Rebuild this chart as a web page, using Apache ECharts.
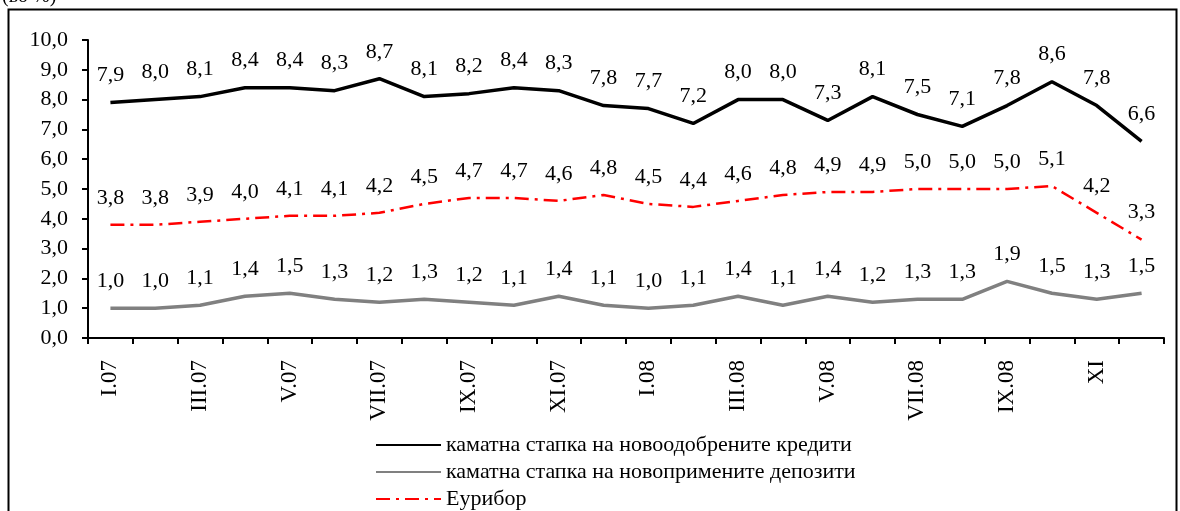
<!DOCTYPE html>
<html>
<head>
<meta charset="utf-8">
<script src="https://cdn.jsdelivr.net/npm/echarts@6/dist/echarts.min.js"></script>
<style>
html,body{margin:0;padding:0;background:#fff;}
#chart{width:1180px;height:511px;}
</style>
</head>
<body>
<div id="chart"></div>
<script>
const categories = ['I.07','II.07','III.07','IV.07','V.07','VI.07','VII.07','VIII.07','IX.07','X.07','XI.07','XII.07',
  'I.08','II.08','III.08','IV.08','V.08','VI.08','VII.08','VIII.08','IX.08','X.08','XI','XII'];
const credits = [7.9,8.0,8.1,8.4,8.4,8.3,8.7,8.1,8.2,8.4,8.3,7.8,7.7,7.2,8.0,8.0,7.3,8.1,7.5,7.1,7.8,8.6,7.8,6.6];
const deposits = [1.0,1.0,1.1,1.4,1.5,1.3,1.2,1.3,1.2,1.1,1.4,1.1,1.0,1.1,1.4,1.1,1.4,1.2,1.3,1.3,1.9,1.5,1.3,1.5];
const euribor = [3.8,3.8,3.9,4.0,4.1,4.1,4.2,4.5,4.7,4.7,4.6,4.8,4.5,4.4,4.6,4.8,4.9,4.9,5.0,5.0,5.0,5.1,4.2,3.3];
const seriesNames = ['каматна стапка на новоодобрените кредити','каматна стапка на новопримените депозити','Еурибор'];
const unitLabel = '(во %)';

const FONT = '"Liberation Serif","Times New Roman",serif';
const fmt = v => v.toFixed(1).replace('.', ',');

const chart = echarts.init(document.getElementById('chart'), null, {renderer:'canvas'});
const labelCfg = {show:true, position:'top', distance:16, color:'#000', fontFamily:FONT, fontSize:22,
  formatter: p => fmt(p.value)};

chart.setOption({
  animation:false,
  backgroundColor:'#fff',
  graphic:[
    {type:'rect', shape:{x:8.5,y:9.5,width:1168,height:520}, style:{fill:'none',stroke:'#000',lineWidth:2}, silent:true, z:-1},
    {type:'text', x:2, y:7, style:{text:unitLabel, fill:'#000', font:'20px "Liberation Serif", serif', verticalAlign:'bottom'}}
  ],
  grid:{left:88,right:16,top:40,bottom:173},
  legend:{
    orient:'vertical', left:375, top:434, height:80, padding:0,
    itemWidth:65, itemHeight:14, itemGap:5,
    itemStyle:{opacity:0},
    textStyle:{fontFamily:FONT, fontSize:22, lineHeight:22, color:'#000'},
    data:seriesNames
  },
  xAxis:{
    type:'category', data:categories, boundaryGap:true,
    axisLine:{lineStyle:{color:'#000',width:2}},
    axisTick:{show:true, interval:0, length:6, lineStyle:{color:'#000',width:2}},
    axisLabel:{interval:1, rotate:90, margin:22, color:'#000', fontFamily:FONT, fontSize:23}
  },
  yAxis:{
    type:'value', min:0, max:10, interval:1,
    axisLine:{show:true, lineStyle:{color:'#000',width:2}},
    axisTick:{show:true, length:6, lineStyle:{color:'#000',width:2}},
    splitLine:{show:false},
    axisLabel:{margin:20, color:'#000', fontFamily:FONT, fontSize:22, formatter: v => fmt(v)}
  },
  series:[
    {name:seriesNames[0], type:'line', data:credits, symbol:'circle', symbolSize:0.01, lineStyle:{color:'#000',width:3.5}, itemStyle:{color:'#000'}, label:labelCfg},
    {name:seriesNames[1], type:'line', data:deposits, symbol:'circle', symbolSize:0.01, lineStyle:{color:'#808080',width:3.5}, itemStyle:{color:'#808080'}, label:labelCfg},
    {name:seriesNames[2], type:'line', data:euribor, symbol:'circle', symbolSize:0.01, lineStyle:{color:'#ff0000',width:2.5,type:[14,6,3,6]}, itemStyle:{color:'#ff0000'}, label:labelCfg}
  ]
});
</script>
</body>
</html>
